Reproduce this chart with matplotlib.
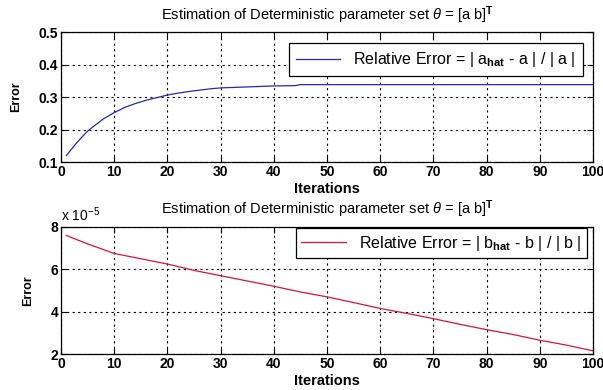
import numpy as np
import matplotlib
matplotlib.use("Agg")
import matplotlib.pyplot as plt

plt.rcParams['font.family'] = ['Liberation Sans', 'DejaVu Sans']
plt.rcParams['mathtext.fontset'] = 'custom'
plt.rcParams['mathtext.rm'] = 'Liberation Sans'
plt.rcParams['mathtext.it'] = 'Liberation Sans:italic'
plt.rcParams['mathtext.bf'] = 'Liberation Sans:bold'

# iterations and relative errors
iter_a = [1, 2, 3, 4, 5, 6, 8, 10, 12, 14, 16, 18, 20, 22, 25, 28, 30, 35, 40, 44, 45, 50, 60, 70, 80, 90, 100]
err_a = [0.12, 0.14, 0.16, 0.178, 0.195, 0.208, 0.233, 0.252, 0.268, 0.28, 0.29, 0.298, 0.306, 0.312, 0.319, 0.325, 0.328, 0.331, 0.334, 0.335, 0.338, 0.338, 0.338, 0.338, 0.338, 0.338, 0.338]

iter_b = [1, 5, 10, 15, 20, 25, 30, 35, 40, 45, 50, 55, 60, 65, 70, 75, 80, 85, 90, 95, 100]
err_b = [7.6, 7.2, 6.75, 6.5, 6.25, 5.95, 5.7, 5.45, 5.2, 4.93, 4.7, 4.43, 4.15, 3.92, 3.67, 3.4, 3.15, 2.92, 2.65, 2.42, 2.15]

title = r'Estimation of Deterministic parameter set $\it{\theta}$ = [a b]$^{\mathbf{T}}$'

W, H = 603, 390
fig = plt.figure(figsize=(W / 100, H / 100), dpi=100)
ax1 = fig.add_axes([61 / W, 1 - 162 / H, 532 / W, 130 / H])
ax2 = fig.add_axes([61 / W, 1 - 354 / H, 532 / W, 127 / H])


def style(ax):
    ax.set_xlim(0, 100)
    ax.set_xticks(range(0, 101, 10))
    ax.grid(True, color='black', linestyle=(0, (2, 3)), linewidth=0.8)
    ax.tick_params(direction='in', top=True, right=True, length=4, labelsize=10, pad=2)
    for lab in ax.get_xticklabels() + ax.get_yticklabels():
        lab.set_fontweight('bold')
    for s in ax.spines.values():
        s.set_linewidth(0.9)
    ax.set_xlabel('Iterations', fontsize=10.5, fontweight='bold', labelpad=2)
    ax.set_ylabel('Error', fontsize=9, fontweight='bold', labelpad=12)
    ax.set_title(title, fontsize=10.5, pad=9)


ax1.plot(iter_a, err_a, color='#2828b4', linewidth=0.9,
         label=r'Relative Error = | a$_{\mathbf{hat}}$ - a | / | a |')
ax1.set_ylim(0.1, 0.5)
ax1.set_yticks([0.1, 0.2, 0.3, 0.4, 0.5])
style(ax1)
leg1 = ax1.legend(loc='upper right', fontsize=11.5, frameon=True, fancybox=False,
                  edgecolor='black', framealpha=1, bbox_to_anchor=(583 / W, 1 - 43 / H),
                  bbox_transform=fig.transFigure, borderaxespad=0, handlelength=2.8,
                  borderpad=0.45)
leg1.get_frame().set_linewidth(0.9)

ax2.plot(iter_b, err_b, color='#d8143c', linewidth=0.9,
         label=r'Relative Error = | b$_{\mathbf{hat}}$ - b | / | b |')
ax2.set_ylim(2, 8)
ax2.set_yticks([2, 4, 6, 8])
style(ax2)
ax2.text(0.0, 1.02, r'x 10$^{-5}$', transform=ax2.transAxes, fontsize=10, ha='left', va='bottom')
leg2 = ax2.legend(loc='upper right', fontsize=11.5, frameon=True, fancybox=False,
                  edgecolor='black', framealpha=1, bbox_to_anchor=(587 / W, 1 - 228 / H),
                  bbox_transform=fig.transFigure, borderaxespad=0, handlelength=2.8,
                  borderpad=0.35)
leg2.get_frame().set_linewidth(0.9)

fig.savefig('out.png', dpi=100)
